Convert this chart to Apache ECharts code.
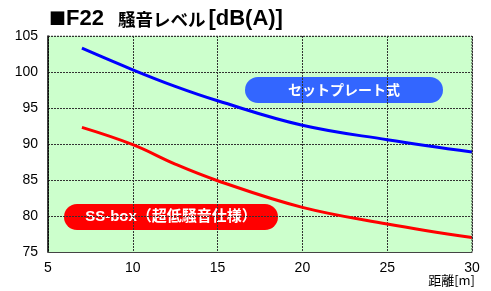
<!DOCTYPE html>
<html>
<head>
<meta charset="utf-8">
<script src="https://cdn.jsdelivr.net/npm/echarts@6/dist/echarts.min.js"></script>
<style>
    html, body { margin: 0; padding: 0; background: #fff; }
    #chart { width: 491px; height: 291px; }
</style>
</head>
<body>
<div id="chart"></div>
<script>
// 距離[m]
var distance = [7, 10, 12.5, 15, 20, 25, 30];
// セットプレート式
var setPlate = [103.3, 100.3, 98.0, 96.0, 92.6, 90.6, 88.9];
// SS-box（超低騒音仕様）
var ssBox = [92.3, 89.9, 87.2, 84.9, 81.2, 78.9, 77.0];

var xTicks = [5, 10, 15, 20, 25, 30];
var yTicks = [75, 80, 85, 90, 95, 100, 105];

function pairs(xs, ys) {
    return xs.map(function (x, i) { return [x, ys[i]]; });
}

var font = 'Liberation Sans, Arial, Noto Sans CJK JP, sans-serif';
var chart = echarts.init(document.getElementById('chart'));

chart.setOption({
    animation: false,
    textStyle: { fontFamily: font },
    title: {
        text: '{sq|■}{a|F22}{c|騒音レベル}{b|[dB(A)]}',
        left: 44,
        top: 3,
        textStyle: {
            rich: {
                sq: { fontSize: 17, color: '#000', fontFamily: 'Noto Sans CJK JP' },
                a: { fontSize: 22, fontWeight: 'bold', color: '#000', fontFamily: font, padding: [0, 14, 0, 0] },
                c: { fontSize: 17.5, fontWeight: 'bold', color: '#000', fontFamily: 'Noto Sans CJK JP' },
                b: { fontSize: 22, fontWeight: 'bold', color: '#000', fontFamily: font, padding: [0, 0, 0, 3] }
            }
        }
    },
    grid: {
        left: 48, right: 19, top: 36, bottom: 39,
        show: true,
        backgroundColor: '#ccffcc',
        borderWidth: 0
    },
    xAxis: {
        type: 'value',
        min: xTicks[0],
        max: xTicks[xTicks.length - 1],
        interval: 5,
        axisLine: { show: true, lineStyle: { color: '#444', width: 1 } },
        axisTick: { show: false },
        axisLabel: { color: '#000', fontSize: 14, margin: 9 },
        splitLine: { show: true, lineStyle: { color: '#333', type: [2, 1], width: 1 } }
    },
    yAxis: {
        type: 'value',
        min: yTicks[0],
        max: yTicks[yTicks.length - 1],
        interval: 5,
        axisLine: { show: true, lineStyle: { color: '#000', width: 1.5 } },
        axisTick: { show: false },
        axisLabel: { color: '#000', fontSize: 14, margin: 10 },
        splitLine: { show: true, lineStyle: { color: '#333', type: [2, 1], width: 1 } }
    },
    series: [
        {
            name: 'セットプレート式',
            type: 'line',
            smooth: 0.4,
            symbol: 'none',
            lineStyle: { color: '#0000ff', width: 3 },
            data: pairs(distance, setPlate)
        },
        {
            name: 'SS-box（超低騒音仕様）',
            type: 'line',
            smooth: 0.4,
            symbol: 'none',
            lineStyle: { color: '#ff0000', width: 3 },
            data: pairs(distance, ssBox)
        },
        // right and top dotted border
        {
            type: 'line',
            symbol: 'none',
            silent: true,
            lineStyle: { color: '#333', type: [2, 1], width: 1 },
            data: [[5, 105], [30, 105], [30, 75]]
        }
    ],
    graphic: [
        {
            type: 'group',
            left: 245, top: 77,
            children: [
                { type: 'rect', shape: { x: 0, y: 0, width: 198, height: 26, r: 13 }, style: { fill: '#3366ff' } },
                { type: 'text', x: 99, y: 13, style: { text: 'セットプレート式', fill: '#fff', font: 'bold 14px Noto Sans CJK JP', align: 'center', verticalAlign: 'middle' } }
            ]
        },
        {
            type: 'group',
            left: 64, top: 204,
            children: [
                { type: 'rect', shape: { x: 0, y: 0, width: 214, height: 26, r: 13 }, style: { fill: '#ff0000' } },
                { type: 'text', x: 107, y: 13, style: { text: 'SS-box（超低騒音仕様）', fill: '#fff', font: 'bold 15px Liberation Sans, Noto Sans CJK JP', align: 'center', verticalAlign: 'middle' } }
            ]
        },
        {
            type: 'text',
            right: 16, top: 274,
            style: { text: '距離[m]', fill: '#000', font: '13px Noto Sans CJK JP' }
        }
    ]
});
</script>
</body>
</html>
